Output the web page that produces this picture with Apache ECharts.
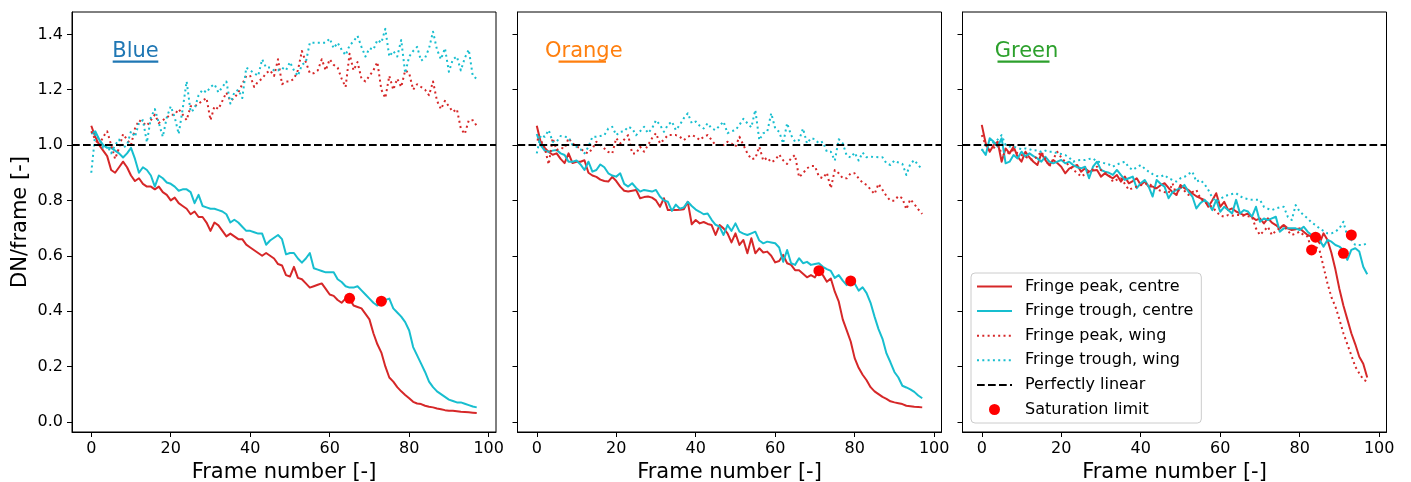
<!DOCTYPE html>
<html>
<head>
<meta charset="utf-8">
<script src="https://cdn.jsdelivr.net/npm/echarts@6/dist/echarts.min.js"></script>
<style>html,body{margin:0;padding:0;background:#fff}#c{width:1411px;height:482px}</style>
</head>
<body>
<div id="c"></div>
<script>
// ---------- data ----------
const FRAMES = [0,1,2,3,4,5,6,7,8,9,10,11,12,13,14,15,16,17,18,19,20,21,22,23,24,25,26,27,28,29,30,31,32,33,34,35,36,37,38,39,40,41,42,43,44,45,46,47,48,49,50,51,52,53,54,55,56,57,58,59,60,61,62,63,64,65,66,67,68,69,70,71,72,73,74,75,76,77,78,79,80,81,82,83,84,85,86,87,88,89,90,91,92,93,94,95,96,97];
const X_TICKS = [0,20,40,60,80,100];
const Y_TICKS = [0,0.2,0.4,0.6,0.8,1.0,1.2,1.4];
const LINEAR = 1.0;

const BLUE_PEAK_CENTRE = [1.07,1.03,1.00,0.98,0.96,0.91,0.90,0.92,0.94,0.92,
0.89,0.87,0.88,0.86,0.85,0.85,0.84,0.85,0.83,0.82,
0.80,0.81,0.79,0.78,0.77,0.75,0.76,0.74,0.74,0.72,
0.69,0.72,0.71,0.69,0.67,0.68,0.67,0.66,0.66,0.64,
0.63,0.62,0.61,0.60,0.61,0.60,0.59,0.57,0.565,0.53,
0.525,0.56,0.52,0.515,0.50,0.485,0.49,0.495,0.50,0.48,
0.46,0.455,0.44,0.43,0.445,0.445,0.42,0.415,0.41,0.39,
0.37,0.32,0.28,0.25,0.20,0.16,0.145,0.125,0.11,0.097,
0.085,0.072,0.066,0.064,0.058,0.054,0.052,0.048,0.045,0.042,
0.040,0.040,0.038,0.036,0.035,0.034,0.033,0.032];
const BLUE_TROUGH_CENTRE = [1.04,1.05,1.02,1.00,0.99,0.99,0.98,0.97,0.955,0.97,
0.99,0.95,0.90,0.92,0.91,0.89,0.85,0.89,0.88,0.865,
0.86,0.85,0.835,0.84,0.84,0.83,0.79,0.82,0.78,0.775,
0.77,0.77,0.765,0.76,0.75,0.72,0.73,0.72,0.705,0.69,
0.69,0.685,0.68,0.68,0.64,0.655,0.665,0.675,0.66,0.605,
0.61,0.61,0.59,0.575,0.59,0.61,0.555,0.55,0.545,0.54,
0.54,0.54,0.515,0.505,0.49,0.485,0.485,0.49,0.475,0.46,
0.445,0.43,0.42,0.435,0.44,0.445,0.41,0.395,0.38,0.36,
0.33,0.27,0.24,0.21,0.18,0.145,0.125,0.11,0.10,0.09,
0.08,0.075,0.07,0.07,0.065,0.06,0.055,0.052];
const BLUE_PEAK_WING = [1.05,1.02,1.00,1.03,1.05,1.00,0.95,0.99,1.04,1.02,
1.00,1.06,1.09,1.08,1.07,1.09,1.11,1.08,1.09,1.10,
1.11,1.11,1.13,1.11,1.09,1.14,1.14,1.15,1.16,1.17,
1.09,1.14,1.13,1.16,1.19,1.16,1.17,1.19,1.22,1.25,
1.25,1.21,1.23,1.24,1.26,1.27,1.25,1.31,1.22,1.23,
1.23,1.24,1.27,1.34,1.30,1.26,1.26,1.27,1.31,1.27,
1.31,1.29,1.28,1.24,1.21,1.33,1.27,1.30,1.24,1.23,
1.25,1.27,1.30,1.20,1.17,1.25,1.20,1.24,1.21,1.27,
1.26,1.20,1.22,1.21,1.20,1.18,1.23,1.16,1.13,1.16,
1.14,1.12,1.13,1.06,1.04,1.09,1.09,1.07];
const BLUE_TROUGH_WING = [0.90,1.04,1.02,0.99,1.00,0.97,1.00,1.02,0.99,1.00,
1.05,1.03,1.08,1.09,1.01,1.10,1.13,1.08,1.03,1.10,
1.14,1.10,1.04,1.13,1.23,1.12,1.13,1.18,1.20,1.19,
1.21,1.22,1.19,1.21,1.23,1.15,1.19,1.20,1.17,1.28,
1.27,1.26,1.25,1.31,1.28,1.28,1.27,1.27,1.28,1.27,
1.30,1.27,1.25,1.29,1.30,1.37,1.37,1.37,1.37,1.37,
1.385,1.35,1.37,1.345,1.325,1.36,1.375,1.395,1.355,1.32,
1.35,1.345,1.38,1.37,1.42,1.32,1.34,1.32,1.38,1.26,
1.32,1.34,1.355,1.305,1.315,1.35,1.41,1.345,1.31,1.35,
1.265,1.31,1.32,1.27,1.315,1.345,1.25,1.24];
const BLUE_SATURATION = [[65,0.446],[73,0.436]];

const ORANGE_PEAK_CENTRE = [1.07,1.01,0.99,0.975,0.965,0.97,0.95,0.935,0.97,0.935,
0.94,0.94,0.945,0.90,0.89,0.885,0.875,0.87,0.868,0.885,
0.87,0.85,0.835,0.832,0.835,0.838,0.808,0.812,0.814,0.81,
0.80,0.777,0.808,0.765,0.765,0.765,0.766,0.768,0.795,0.714,
0.729,0.717,0.722,0.715,0.711,0.675,0.711,0.699,0.681,0.648,
0.681,0.639,0.657,0.609,0.663,0.609,0.627,0.612,0.615,0.60,
0.576,0.581,0.603,0.573,0.567,0.548,0.548,0.535,0.522,0.53,
0.522,0.546,0.53,0.506,0.518,0.47,0.434,0.37,0.33,0.29,
0.23,0.195,0.17,0.15,0.125,0.11,0.10,0.09,0.083,0.074,
0.07,0.067,0.064,0.058,0.056,0.054,0.053,0.052];
const ORANGE_TROUGH_CENTRE = [1.04,1.0,0.98,0.976,0.98,0.982,0.97,0.964,0.94,0.94,
0.944,0.93,0.91,0.94,0.904,0.91,0.93,0.92,0.898,0.89,
0.886,0.898,0.86,0.85,0.862,0.845,0.832,0.838,0.835,0.832,
0.838,0.814,0.80,0.795,0.762,0.785,0.77,0.775,0.795,0.78,
0.767,0.759,0.75,0.753,0.73,0.712,0.705,0.675,0.711,0.69,
0.717,0.687,0.68,0.675,0.681,0.687,0.655,0.645,0.651,0.648,
0.645,0.63,0.578,0.621,0.573,0.567,0.591,0.573,0.578,0.567,
0.57,0.573,0.56,0.552,0.545,0.52,0.53,0.51,0.494,0.509,
0.50,0.474,0.486,0.465,0.43,0.38,0.335,0.30,0.247,0.215,
0.18,0.16,0.13,0.124,0.117,0.108,0.095,0.085];
const ORANGE_PEAK_WING = [1.02,1.018,0.99,0.93,1.025,0.982,0.99,0.988,1.025,1.006,
0.995,0.988,0.975,0.97,0.988,1.012,1.0,0.988,0.975,0.97,
1.025,1.006,1.02,1.036,0.97,0.97,0.994,0.976,1.0,1.025,
1.043,1.006,1.02,1.036,1.036,1.036,1.03,1.018,1.03,1.036,
1.03,1.018,1.03,1.036,1.018,1.0,1.0,1.0,1.012,1.006,
0.994,1.03,1.0,0.97,0.949,0.952,0.994,0.944,0.955,0.938,
0.946,0.966,0.945,0.932,0.952,0.964,0.884,0.898,0.916,0.924,
0.924,0.886,0.88,0.90,0.844,0.91,0.898,0.88,0.88,0.898,
0.898,0.88,0.864,0.856,0.84,0.823,0.86,0.838,0.816,0.799,
0.799,0.816,0.808,0.768,0.804,0.787,0.768,0.751];
const ORANGE_TROUGH_WING = [0.97,1.036,1.03,1.054,1.012,1.012,1.033,1.03,1.028,1.0,
0.994,0.985,0.97,0.994,1.03,1.03,1.033,1.036,1.06,1.066,
1.036,1.048,1.05,1.066,1.06,1.036,1.05,1.066,1.043,1.06,
1.09,1.073,1.048,1.073,1.085,1.054,1.073,1.097,1.115,1.079,
1.085,1.07,1.06,1.079,1.06,1.054,1.07,1.085,1.043,1.05,
1.054,1.073,1.095,1.079,1.064,1.127,1.018,1.043,1.048,1.115,
1.06,1.048,1.006,1.079,1.036,1.012,1.018,1.06,1.006,1.025,
1.021,1.006,1.012,0.976,0.976,0.944,1.021,1.006,0.962,0.955,
0.973,0.944,0.973,0.956,0.958,0.957,0.956,0.956,0.934,0.928,
0.944,0.937,0.932,0.892,0.932,0.946,0.928,0.912];
const ORANGE_SATURATION = [[71,0.546],[79,0.509]];

const GREEN_PEAK_CENTRE = [1.073,1.006,0.976,1.0,1.012,0.94,0.988,0.97,0.994,0.958,
0.94,0.976,0.955,0.94,0.928,0.97,0.946,0.928,0.946,0.935,
0.922,0.898,0.915,0.922,0.928,0.904,0.916,0.904,0.908,0.91,
0.886,0.898,0.888,0.88,0.892,0.868,0.886,0.862,0.87,0.88,
0.856,0.868,0.85,0.85,0.844,0.855,0.862,0.845,0.83,0.82,
0.856,0.844,0.838,0.825,0.815,0.808,0.802,0.777,0.80,0.826,
0.777,0.795,0.765,0.771,0.76,0.753,0.747,0.753,0.74,0.729,
0.735,0.717,0.735,0.72,0.711,0.699,0.711,0.699,0.693,0.696,
0.699,0.687,0.675,0.669,0.667,0.645,0.681,0.657,0.61,0.55,
0.48,0.42,0.37,0.32,0.28,0.235,0.21,0.16];
const GREEN_TROUGH_CENTRE = [0.985,0.964,1.025,1.012,0.994,1.025,0.934,0.94,0.964,0.952,
0.976,0.958,0.97,0.96,0.952,0.94,0.958,0.94,0.934,0.94,
0.946,0.934,0.94,0.928,0.92,0.916,0.922,0.88,0.922,0.94,
0.91,0.904,0.90,0.892,0.91,0.892,0.874,0.88,0.886,0.844,
0.862,0.874,0.85,0.814,0.874,0.86,0.85,0.808,0.83,0.838,
0.844,0.856,0.832,0.814,0.771,0.79,0.802,0.79,0.765,0.802,
0.759,0.777,0.765,0.753,0.802,0.753,0.765,0.76,0.741,0.777,
0.723,0.735,0.729,0.735,0.741,0.687,0.699,0.699,0.699,0.699,
0.693,0.705,0.687,0.675,0.669,0.657,0.633,0.657,0.651,0.639,
0.633,0.621,0.585,0.621,0.627,0.615,0.56,0.533];
const GREEN_PEAK_WING = [1.036,1.0,0.982,0.99,1.0,0.97,0.964,0.975,0.982,0.97,
0.964,0.958,0.95,0.946,0.96,0.976,0.95,0.922,0.95,0.976,
0.955,0.94,0.925,0.91,0.90,0.886,0.895,0.904,0.912,0.922,
0.91,0.90,0.892,0.868,0.875,0.88,0.86,0.838,0.845,0.85,
0.855,0.86,0.862,0.85,0.84,0.835,0.83,0.826,0.862,0.82,
0.85,0.835,0.82,0.83,0.838,0.808,0.795,0.785,0.777,0.76,
0.745,0.741,0.747,0.745,0.747,0.747,0.745,0.743,0.741,0.699,
0.675,0.69,0.705,0.675,0.69,0.70,0.711,0.69,0.675,0.68,
0.687,0.675,0.669,0.621,0.633,0.62,0.56,0.50,0.45,0.416,
0.37,0.32,0.28,0.24,0.199,0.175,0.153,0.145];
const GREEN_TROUGH_WING = [0.98,1.006,1.0,1.01,1.02,1.036,1.0,0.995,0.994,0.99,
0.985,0.988,0.985,0.98,0.982,0.975,0.98,0.976,0.976,0.97,
0.968,0.964,0.955,0.94,0.945,0.946,0.946,0.95,0.952,0.94,
0.938,0.934,0.93,0.922,0.93,0.935,0.94,0.92,0.91,0.92,
0.928,0.915,0.904,0.895,0.888,0.886,0.892,0.88,0.874,0.868,
0.88,0.885,0.895,0.904,0.868,0.874,0.86,0.838,0.81,0.795,
0.805,0.814,0.82,0.823,0.826,0.815,0.808,0.805,0.802,0.802,
0.802,0.777,0.77,0.765,0.771,0.775,0.777,0.741,0.729,0.783,
0.76,0.747,0.735,0.72,0.711,0.699,0.69,0.681,0.681,0.687,
0.699,0.723,0.67,0.657,0.639,0.639,0.639,0.645];
const GREEN_SATURATION = [[84,0.667],[83,0.621],[91,0.609],[93,0.675]];

const PANEL_NAMES = ['Blue','Orange','Green'];
const SERIES_NAMES = ['Fringe peak, centre','Fringe trough, centre','Fringe peak, wing','Fringe trough, wing','Perfectly linear','Saturation limit'];

// ---------- layout / style ----------
const FONT = 'DejaVu Sans';
const X_MIN = -4.85, X_MAX = 101.85, Y_MIN = -0.037, Y_MAX = 1.481;
const GRID_LEFT = [72, 517.5, 962.5];
const GRID_TOP = 12, GRID_W = 424, GRID_H = 420;
const RED = '#d62728', CYAN = '#17becf';
const TITLE_STYLE = [
  {color:'#1f77b4', cx:63.5, ul:[40.7, 86.3]},
  {color:'#ff7f0e', cx:66.3, ul:[41.0, 88.5]},
  {color:'#2ca02c', cx:64.0, ul:[35.0, 87.0]}
];

const PANEL_DATA = [
  [BLUE_PEAK_CENTRE, BLUE_TROUGH_CENTRE, BLUE_PEAK_WING, BLUE_TROUGH_WING, BLUE_SATURATION],
  [ORANGE_PEAK_CENTRE, ORANGE_TROUGH_CENTRE, ORANGE_PEAK_WING, ORANGE_TROUGH_WING, ORANGE_SATURATION],
  [GREEN_PEAK_CENTRE, GREEN_TROUGH_CENTRE, GREEN_PEAK_WING, GREEN_TROUGH_WING, GREEN_SATURATION]
];

const pair = arr => FRAMES.map((f, i) => [f, arr[i]]);
const DOTTED = [2, 3.3], DASHED = [7.7, 3.3];

const series = [];
PANEL_DATA.forEach((pd, g) => {
  const styles = [
    {c:RED, t:'solid'}, {c:CYAN, t:'solid'}, {c:RED, t:DOTTED}, {c:CYAN, t:DOTTED}
  ];
  for (let k = 0; k < 4; k++) {
    series.push({
      name: SERIES_NAMES[k], type:'line', xAxisIndex:g, yAxisIndex:g,
      data: pair(pd[k]), symbol:'none', showSymbol:false, smooth:false,
      lineStyle:{color:styles[k].c, width:2, type:styles[k].t, cap:'butt', join:'round'},
      itemStyle:{color:styles[k].c, opacity:0}, z: 2 + k, silent:true
    });
  }
  series.push({
    name: SERIES_NAMES[4], type:'line', xAxisIndex:g, yAxisIndex:g,
    data: [[X_MIN, LINEAR],[X_MAX, LINEAR]], symbol:'none', showSymbol:false,
    lineStyle:{color:'#000', width:2, type:DASHED, cap:'butt'}, itemStyle:{color:'#000', opacity:0}, z:7, silent:true
  });
  series.push({
    name: SERIES_NAMES[5], type:'scatter', xAxisIndex:g, yAxisIndex:g,
    data: pd[4], symbol:'circle', symbolSize:11, itemStyle:{color:'#ff0000', opacity:1}, z:8, silent:true
  });
});

const graphic = [];
PANEL_NAMES.forEach((nm, g) => {
  const ts = TITLE_STYLE[g];
  graphic.push({type:'text', x: GRID_LEFT[g] + ts.cx, y: 52, silent:true, z:10,
    style:{text:nm, fill:ts.color, font:'21px "DejaVu Sans"', align:'center', verticalAlign:'middle', textAlign:'center', textVerticalAlign:'middle'}});
  graphic.push({type:'line', silent:true, z:10,
    shape:{x1: GRID_LEFT[g] + ts.ul[0], y1: 61.7, x2: GRID_LEFT[g] + ts.ul[1], y2: 61.7},
    style:{stroke: ts.color, lineWidth: 2.3}});
});

const legendData = SERIES_NAMES.map((n, i) => i < 5 ? {name:n, itemStyle:{opacity:0}} : {name:n, icon:'circle'});

const option = {
  animation:false,
  backgroundColor:'#fff',
  textStyle:{fontFamily:FONT},
  grid: GRID_LEFT.map(l => ({left:l, top:GRID_TOP, width:GRID_W, height:GRID_H, show:true,
    borderColor:'#000', borderWidth:1, backgroundColor:'transparent', containLabel:false, outerBoundsMode:'none'})),
  xAxis: [0,1,2].map(i => ({
    type:'value', gridIndex:i, min:X_MIN, max:X_MAX,
    name:'Frame number [-]', nameLocation:'middle', nameGap:28,
    nameTextStyle:{fontFamily:FONT, fontSize:21, color:'#000'},
    axisLine:{show:true, onZero:false, lineStyle:{color:'#000', width:1}},
    axisTick:{show:true, inside:false, length:5, lineStyle:{color:'#000', width:1}, customValues:X_TICKS},
    axisLabel:{show:true, customValues:X_TICKS, margin:9, fontFamily:FONT, fontSize:16, color:'#000'},
    splitLine:{show:false}
  })),
  yAxis: [0,1,2].map(i => ({
    type:'value', gridIndex:i, min:Y_MIN, max:Y_MAX,
    name: i === 0 ? 'DN/frame [-]' : '', nameLocation:'middle', nameGap:41, nameRotate:90,
    nameTextStyle:{fontFamily:FONT, fontSize:21, color:'#000'},
    axisLine:{show:true, onZero:false, lineStyle:{color:'#000', width:1}},
    axisTick:{show:true, inside:false, length:5, lineStyle:{color:'#000', width:1}, customValues:Y_TICKS},
    axisLabel:{show: i === 0, customValues:Y_TICKS, margin:9, fontFamily:FONT, fontSize:16, color:'#000',
      formatter: v => Number(v).toFixed(1)},
    splitLine:{show:false}
  })),
  legend: {
    data: legendData, orient:'vertical', left:971, top:273,
    itemWidth:35, itemHeight:11, itemGap:8.6, padding:[5.5, 8, 5.5, 5],
    backgroundColor:'rgba(255,255,255,0.8)', borderColor:'#cccccc', borderWidth:1, borderRadius:4,
    selectedMode:false,
    textStyle:{fontFamily:FONT, fontSize:16, color:'#000', lineHeight:16, padding:[0,0,0,8]}
  },
  graphic: graphic,
  series: series
};

const chart = echarts.init(document.getElementById('c'), null, {renderer:'canvas'});
chart.setOption(option);
</script>
</body>
</html>
